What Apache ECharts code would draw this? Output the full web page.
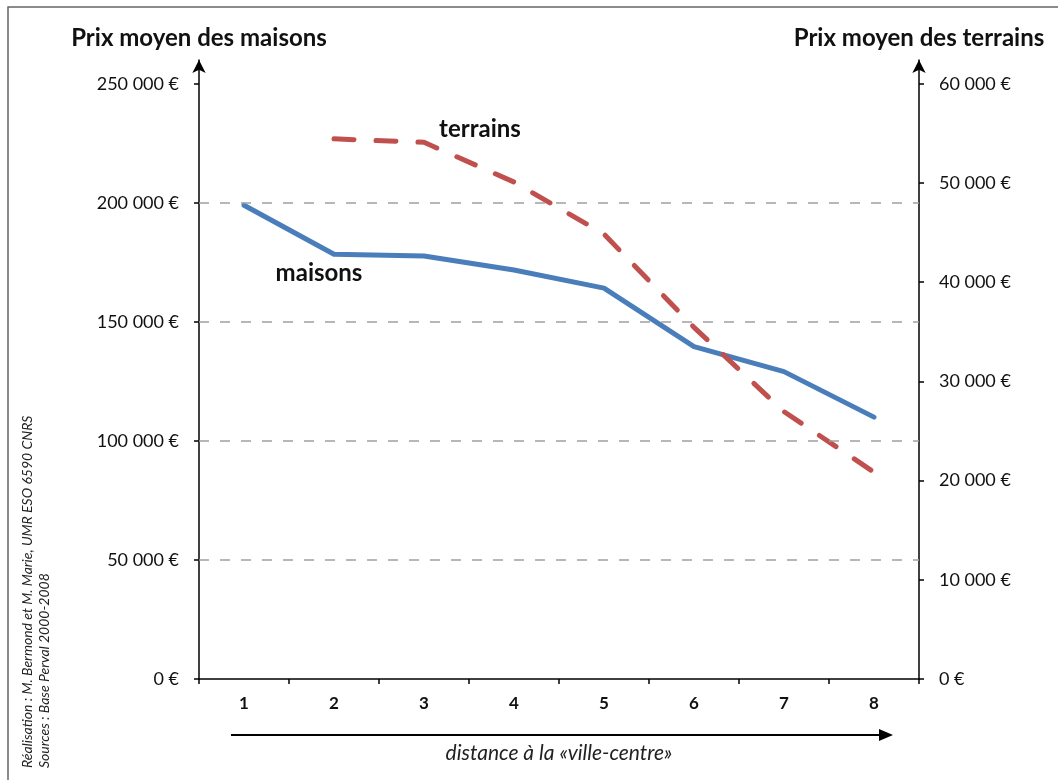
<!DOCTYPE html>
<html>
<head>
<meta charset="utf-8">
<script src="https://cdn.jsdelivr.net/npm/echarts@6/dist/echarts.min.js"></script>
<style>
  html, body { margin: 0; padding: 0; background: #fff; }
  #chart { width: 1058px; height: 780px; }
</style>
</head>
<body>
<div id="chart"></div>
<script>
  // distance à la ville-centre
  const distances = ['1', '2', '3', '4', '5', '6', '7', '8']
  // prix moyen des maisons (axe gauche)
  const maisons = [199000, 178400, 177700, 171800, 164200, 139600, 129100, 110000]
  // prix moyen des terrains (axe droit), pas de valeur pour 1
  const terrains = [null, 54450, 54100, 50100, 44850, 35450, 26950, 20850]
  const ticksMaisons = [0, 50000, 100000, 150000, 200000, 250000]
  const ticksTerrains = [0, 10000, 20000, 30000, 40000, 50000, 60000]
  const grille = [50000, 100000, 150000, 200000]

  const font = 'Lato, "Open Sans", sans-serif'

  function euros(v) {
    return String(v).replace(/\B(?=(\d{3})+(?!\d))/g, ' ') + ' €'
  }

  const chart = echarts.init(document.getElementById('chart'))

  chart.setOption({
    animation: false,
    textStyle: { fontFamily: font },
    grid: { left: 199, right: 139, top: 60, bottom: 101 },
    graphic: [
      {
        type: 'rect',
        shape: { x: 8, y: 7, width: 1200, height: 1000 },
        style: { fill: 'none', stroke: '#666', lineWidth: 1.5 },
        silent: true
      },
      {
        type: 'line',
        shape: { x1: 231, y1: 735, x2: 884, y2: 735 },
        style: { stroke: '#000', lineWidth: 2 },
        silent: true
      },
      {
        type: 'polygon',
        shape: { points: [[879, 729], [893, 735], [879, 741]] },
        style: { fill: '#000' },
        silent: true
      },
      {
        type: 'text',
        x: 27, y: 768, rotation: Math.PI / 2,
        style: {
          text: 'Réalisation : M. Bermond et M. Marie, UMR ESO 6590 CNRS',
          font: 'italic 14px ' + font, fill: '#222',
          align: 'left', verticalAlign: 'middle'
        },
        silent: true
      },
      {
        type: 'text',
        x: 44, y: 768, rotation: Math.PI / 2,
        style: {
          text: 'Sources : Base Perval 2000-2008',
          font: 'italic 14px ' + font, fill: '#222',
          align: 'left', verticalAlign: 'middle'
        },
        silent: true
      }
    ],
    xAxis: {
      type: 'category',
      data: distances,
      boundaryGap: true,
      axisLine: { lineStyle: { color: '#000', width: 1.5 } },
      axisTick: { show: true, length: 5, lineStyle: { color: '#000', width: 1.5 } },
      axisLabel: { color: '#111', fontSize: 17, fontWeight: 'bold', margin: 16 },
      name: 'distance à la «ville-centre»',
      nameLocation: 'middle',
      nameGap: 64,
      nameTextStyle: { color: '#222', fontSize: 21, fontStyle: 'italic' }
    },
    yAxis: [
      {
        type: 'value',
        position: 'left',
        min: 0,
        max: 260000,
        name: 'Prix moyen des maisons',
        nameLocation: 'end',
        nameGap: 10,
        nameTextStyle: { color: '#111', fontSize: 24, fontWeight: 'bold' },
        axisLine: {
          show: true,
          symbol: ['none', 'arrow'],
          symbolSize: [10, 13],
          lineStyle: { color: '#000', width: 1.5 }
        },
        axisTick: {
          show: true, length: 5, customValues: ticksMaisons,
          lineStyle: { color: '#000', width: 1.5 }
        },
        axisLabel: {
          customValues: ticksMaisons, color: '#111', fontSize: 18, margin: 20,
          formatter: euros
        },
        splitLine: { show: false }
      },
      {
        type: 'value',
        position: 'right',
        min: 0,
        max: 62400,
        name: 'Prix moyen des terrains',
        nameLocation: 'end',
        nameGap: 10,
        nameTextStyle: { color: '#111', fontSize: 24, fontWeight: 'bold' },
        axisLine: {
          show: true,
          symbol: ['none', 'arrow'],
          symbolSize: [10, 13],
          lineStyle: { color: '#000', width: 1.5 }
        },
        axisTick: {
          show: true, length: 5, customValues: ticksTerrains,
          lineStyle: { color: '#000', width: 1.5 }
        },
        axisLabel: {
          customValues: ticksTerrains, color: '#111', fontSize: 18, margin: 20,
          formatter: euros
        },
        splitLine: { show: false }
      }
    ],
    series: [
      {
        name: 'grille',
        type: 'line',
        yAxisIndex: 0,
        data: [],
        silent: true,
        markLine: {
          silent: true,
          symbol: ['none', 'none'],
          label: { show: false },
          lineStyle: { color: '#a0a0a0', width: 1.5, type: [10, 11] },
          data: grille.map(v => ({ yAxis: v }))
        }
      },
      {
        name: 'maisons',
        type: 'line',
        yAxisIndex: 0,
        symbol: 'circle',
        symbolSize: 0,
        showSymbol: true,
        silent: true,
        lineStyle: { color: '#4a7ebb', width: 5, cap: 'round', join: 'round' },
        itemStyle: { color: '#4a7ebb' },
        data: maisons.map((v, i) => i === 1
          ? { value: v, label: { show: true, formatter: 'maisons', position: 'inside', offset: [-15, 19] } }
          : v),
        label: {
          show: false, color: '#111', fontSize: 24, fontWeight: 'bold', fontFamily: font
        },
        z: 3
      },
      {
        name: 'terrains',
        type: 'line',
        yAxisIndex: 1,
        symbol: 'circle',
        symbolSize: 0,
        showSymbol: true,
        silent: true,
        lineStyle: { color: '#c0504d', width: 5, type: [20, 22], cap: 'round', join: 'round' },
        itemStyle: { color: '#c0504d' },
        data: terrains.map((v, i) => i === 2
          ? { value: v, label: { show: true, formatter: 'terrains', position: 'inside', offset: [56, -13] } }
          : v),
        label: {
          show: false, color: '#111', fontSize: 24, fontWeight: 'bold', fontFamily: font
        },
        z: 4
      }
    ]
  })
</script>
</body>
</html>
